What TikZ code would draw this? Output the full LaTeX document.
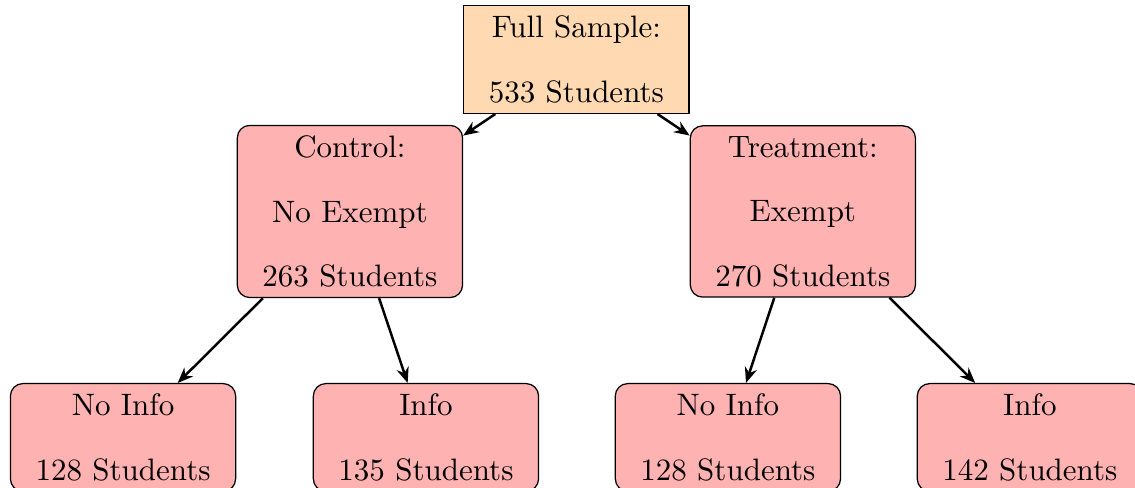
\documentclass[tikz,border=0pt]{standalone}
\usepackage{xcolor}
\usepackage{tikz}
\usetikzlibrary{arrows.meta, positioning}

\tikzset{
  rootbox/.style={draw, fill=orange!30, text width=66pt, align=center},
  groupbox/.style={draw, fill=red!30, rounded corners, text width=66pt, align=center},
  link/.style={-{Stealth[length=5pt, width=4pt]}, thick}
}

\begin{document}
\begin{tikzpicture}
  \useasboundingbox (0,0) rectangle (12.87,-5.533);
  % Top level
  \node[rootbox] (full) at (6.536,-0.675) {Full Sample:\\[8.8pt] 533 Students};
  % Second level
  \node[groupbox] (control) at (3.968,-2.398) {Control:\\[8.8pt] No Exempt\\[8.8pt] 263 Students};
  \node[groupbox] (treat) at (9.104,-2.398) {Treatment:\\[8.8pt] Exempt\\[8.8pt] 270 Students};
  % Third level
  \node[groupbox] (cnoinfo) at (1.395,-4.960) {No Info\\[8.8pt] 128 Students};
  \node[groupbox] (cinfo) at (4.830,-4.960) {Info\\[8.8pt] 135 Students};
  \node[groupbox] (tnoinfo) at (8.254,-4.960) {No Info\\[8.8pt] 128 Students};
  \node[groupbox] (tinfo) at (11.678,-4.960) {Info\\[8.8pt] 142 Students};
  % Arrows
  \draw[link] (full) -- (control);
  \draw[link] (full) -- (treat);
  \draw[link] (control) -- (cnoinfo);
  \draw[link] (control) -- (cinfo);
  \draw[link] (treat) -- (tnoinfo);
  \draw[link] (treat) -- (tinfo);
\end{tikzpicture}
\end{document}
